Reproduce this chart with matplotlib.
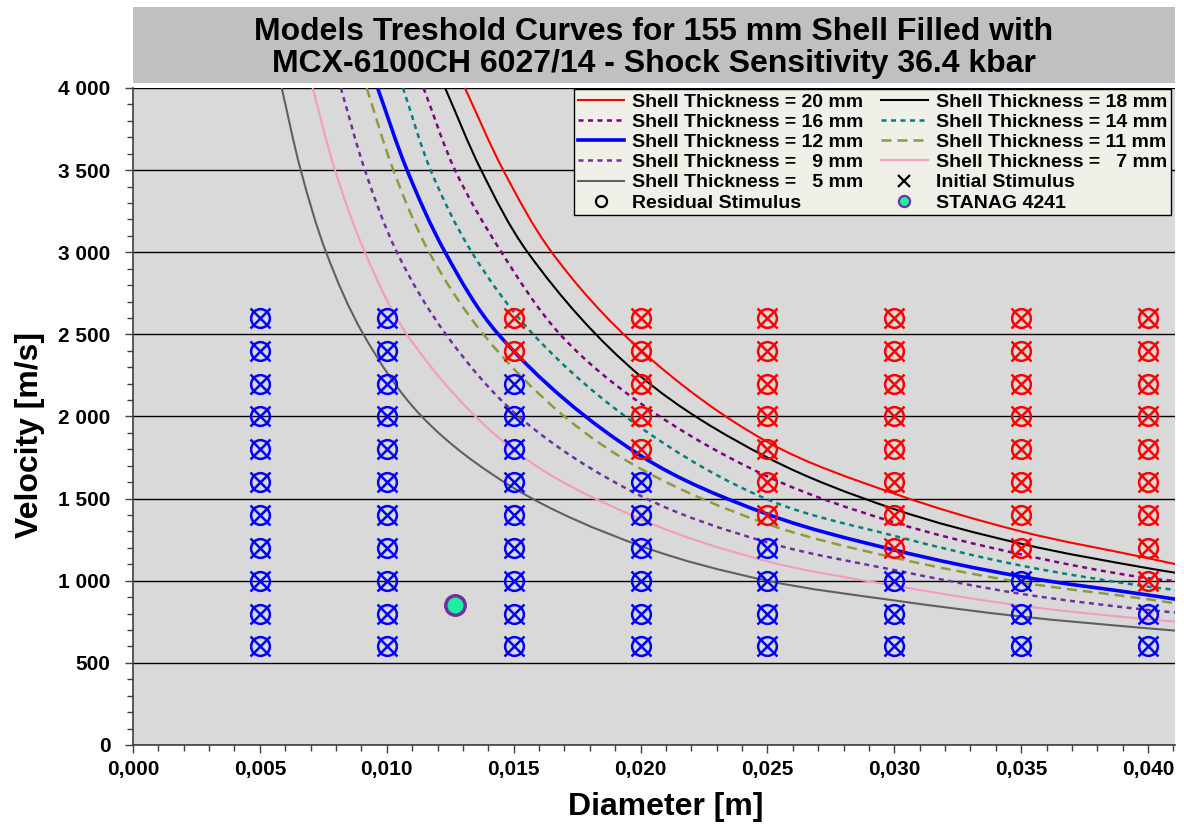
import matplotlib
matplotlib.use("Agg")
import numpy as np
import matplotlib.pyplot as plt
from matplotlib.lines import Line2D
from matplotlib.patches import Rectangle, PathPatch
from matplotlib.path import Path
from matplotlib.ticker import MultipleLocator, FuncFormatter

plt.rcParams['font.family'] = ['Liberation Sans', 'DejaVu Sans']
plt.rcParams['font.weight'] = 'bold'

# threshold curves: diameter [m] -> velocity [m/s]
d20 = [0.01308, 0.01459, 0.01650, 0.0200, 0.0250, 0.0300, 0.0350, 0.0400, 0.0411]
v20 = [4000, 3500, 3000, 2405, 1845, 1530, 1300, 1137, 1100]
d18 = [0.01230, 0.01372, 0.01555, 0.0200, 0.0250, 0.0300, 0.0350, 0.0400, 0.0411]
v18 = [4000, 3500, 3000, 2245, 1750, 1436, 1225, 1076, 1048]
d16 = [0.01145, 0.01269, 0.01452, 0.01683, 0.0200, 0.0250, 0.0300, 0.0350, 0.0400, 0.0411]
v16 = [4000, 3500, 3000, 2500, 2080, 1635, 1355, 1160, 1015, 998]
d14 = [0.01064, 0.01173, 0.01335, 0.01577, 0.0200, 0.0250, 0.0300, 0.0350, 0.0400, 0.0411]
v14 = [4000, 3500, 3000, 2500, 1933, 1495, 1273, 1092, 964, 944]
d12 = [0.00964, 0.01080, 0.01230, 0.01440, 0.0200, 0.0250, 0.0300, 0.0350, 0.0400, 0.0411]
v12 = [4000, 3500, 3000, 2500, 1762, 1405, 1187, 1025, 913, 887]
d11 = [0.00921, 0.01026, 0.01167, 0.01381, 0.0170, 0.0200, 0.0250, 0.0300, 0.0350, 0.0400, 0.0411]
v11 = [4000, 3500, 3000, 2500, 2000, 1682, 1345, 1140, 990, 887, 862]
d9 = [0.00819, 0.00914, 0.01040, 0.01233, 0.0152, 0.0200, 0.0250, 0.0300, 0.0350, 0.0400, 0.0411]
v9 = [4000, 3500, 3000, 2500, 2000, 1517, 1233, 1065, 920, 822, 806]
d7 = [0.00708, 0.00796, 0.00914, 0.01079, 0.0150, 0.0200, 0.0250, 0.0300, 0.0350, 0.0400, 0.0411]
v7 = [4000, 3500, 3000, 2500, 1796, 1375, 1118, 970, 848, 765, 751]
d5 = [0.00586, 0.00661, 0.00761, 0.00908, 0.01138, 0.0150, 0.0200, 0.0250, 0.0300, 0.0350, 0.0400, 0.0411]
v5 = [4000, 3500, 3000, 2500, 2000, 1565, 1212, 1000, 880, 782, 710, 696]

# test grid
test_diam = [0.005, 0.010, 0.015, 0.020, 0.025, 0.030, 0.035, 0.040]
test_vel = [600, 800, 1000, 1200, 1400, 1600, 1800, 2000, 2200, 2400, 2600]
# lowest velocity giving a reaction in each column (None = no reaction)
lowest_go = [None, None, 2400, 1800, 1400, 1200, 1200, 1000]

stanag_d = [0.0127]
stanag_v = [850]


def smooth_path(ax, xs, ys):
    # smoothed line like Excel: cubic bezier through the read points,
    # tangents worked out in screen space so both axes count the same
    pts = ax.transData.transform(np.column_stack([xs, ys]))
    n = len(pts)
    tang = []
    for i in range(n):
        a = pts[max(i - 1, 0)]
        b = pts[min(i + 1, n - 1)]
        t = np.zeros(2)
        if i > 0:
            t += (pts[i] - a) / np.linalg.norm(pts[i] - a)
        if i < n - 1:
            t += (b - pts[i]) / np.linalg.norm(b - pts[i])
        tang.append(t / np.linalg.norm(t))
    verts = [pts[0]]
    codes = [Path.MOVETO]
    for i in range(n - 1):
        L = np.linalg.norm(pts[i + 1] - pts[i]) / 3
        verts += [pts[i] + tang[i] * L, pts[i + 1] - tang[i + 1] * L, pts[i + 1]]
        codes += [Path.CURVE4] * 3
    back = ax.transData.inverted().transform(np.array(verts))
    return Path(back, codes)


fig = plt.figure(figsize=(11.84, 8.27), dpi=100)
ax = fig.add_axes([0.1123, 0.0992, 0.8801, 0.7944])
ax.set_facecolor('#d9d9d9')
ax.set_xlim(0, 0.04106)
ax.set_ylim(0, 4000)

curves = [
    (d20, v20, '#ff0000', 1.5, None, 'Shell Thickness = 20 mm'),
    (d18, v18, '#000000', 1.5, None, 'Shell Thickness = 18 mm'),
    (d16, v16, '#800080', 1.8, (2, 1.8), 'Shell Thickness = 16 mm'),
    (d14, v14, '#008080', 1.8, (2, 1.8), 'Shell Thickness = 14 mm'),
    (d12, v12, '#0000ff', 2.6, None, 'Shell Thickness = 12 mm'),
    (d11, v11, '#8c9c3c', 1.8, (4, 2.4), 'Shell Thickness = 11 mm'),
    (d9, v9, '#7030a0', 1.8, (2, 1.8), 'Shell Thickness =   9 mm'),
    (d7, v7, '#f59ac0', 1.5, None, 'Shell Thickness =   7 mm'),
    (d5, v5, '#606060', 1.5, None, 'Shell Thickness =   5 mm'),
]
handles = {}
for d, v, c, lw, dash, lab in curves:
    ls = '-' if dash is None else (0, dash)
    ax.add_patch(PathPatch(smooth_path(ax, d, v), facecolor='none', edgecolor=c,
                           linewidth=lw, linestyle=ls, zorder=2))
    h = Line2D([], [], color=c, linewidth=lw)
    if dash:
        h.set_dashes(dash)
    handles[lab] = h

# markers: red = reaction, blue = no reaction
for d, low in zip(test_diam, lowest_go):
    for v in test_vel:
        c = '#ff0000' if (low is not None and v >= low) else '#0000ff'
        ax.plot(d, v, marker='o', ms=13.5, mfc='none', mec=c, mew=1.8, zorder=4)
        ax.plot(d, v, marker='x', ms=14.5, mec=c, mew=1.8, zorder=4)

ax.plot(stanag_d, stanag_v, marker='o', ms=14, mfc='#19f0a0', mec='#7030a0',
        mew=2.5, linestyle='none', zorder=5)

ax.set_xlim(0, 0.04106)
ax.set_ylim(0, 4000)
ax.xaxis.set_major_locator(MultipleLocator(0.005))
ax.xaxis.set_minor_locator(MultipleLocator(0.001))
ax.yaxis.set_major_locator(MultipleLocator(500))
ax.yaxis.set_minor_locator(MultipleLocator(100))
ax.xaxis.set_major_formatter(FuncFormatter(lambda x, p: f"{x:.3f}".replace('.', ',')))
ax.yaxis.set_major_formatter(FuncFormatter(lambda y, p: f"{int(round(y)):,}".replace(',', ' ')))
ax.tick_params(axis='both', which='major', labelsize=15, length=6, width=1, color='#404040')
ax.tick_params(axis='both', which='minor', length=4, width=1, color='#404040')
ax.tick_params(axis='y', pad=10)
ax.tick_params(axis='x', pad=5)

ax.grid(True, axis='y', which='major', color='black', linewidth=1.0)
ax.set_axisbelow(True)
for s in ['top', 'right']:
    ax.spines[s].set_visible(False)
for s in ['left', 'bottom']:
    ax.spines[s].set_color('#404040')
    ax.spines[s].set_linewidth(1.2)

ax.set_xlabel('Diameter [m]', fontsize=23, fontweight='bold')
ax.set_ylabel('Velocity [m/s]', fontsize=23, fontweight='bold')
ax.xaxis.set_label_coords(0.5115, -0.072)
ax.yaxis.set_label_coords(-0.084, 0.472)

# title box
fig.patches.append(Rectangle((0.1123, 0.900), 0.8801, 0.0915, transform=fig.transFigure,
                             facecolor='#c0c0c0', edgecolor='none', zorder=0))
fig.text(0.5524, 0.942, 'Models Treshold Curves for 155 mm Shell Filled with\n'
         'MCX-6100CH 6027/14 - Shock Sensitivity 36.4 kbar',
         ha='center', va='center', fontsize=23, fontweight='bold', linespacing=1.05)

# legend, filled column-wise so the order reads row by row
h_init = Line2D([], [], color='black', marker='x', linestyle='none', ms=8, mew=1.6)
h_res = Line2D([], [], color='black', marker='o', mfc='none', linestyle='none', ms=8, mew=1.6)
h_stan = Line2D([], [], marker='o', mfc='#19f0a0', mec='#7030a0', mew=1.6, linestyle='none', ms=8)
lab1 = ['Shell Thickness = 20 mm', 'Shell Thickness = 16 mm', 'Shell Thickness = 12 mm',
        'Shell Thickness =   9 mm', 'Shell Thickness =   5 mm', 'Residual Stimulus']
lab2 = ['Shell Thickness = 18 mm', 'Shell Thickness = 14 mm', 'Shell Thickness = 11 mm',
        'Shell Thickness =   7 mm', 'Initial Stimulus', 'STANAG 4241']
col1 = [handles[l] for l in lab1[:5]] + [h_res]
col2 = [handles[l] for l in lab2[:4]] + [h_init, h_stan]
leg = ax.legend(col1 + col2, lab1 + lab2, ncol=2, loc='upper right',
                bbox_to_anchor=(0.996, 0.998), borderaxespad=0, fontsize=14,
                handlelength=2.4, handletextpad=0.4, columnspacing=0.9,
                labelspacing=0.13, borderpad=0.2, fancybox=False,
                framealpha=1, facecolor='#f0efe8', edgecolor='black')
leg.get_frame().set_linewidth(1.0)
leg.set_zorder(10)

fig.savefig('out.png', dpi=100)
